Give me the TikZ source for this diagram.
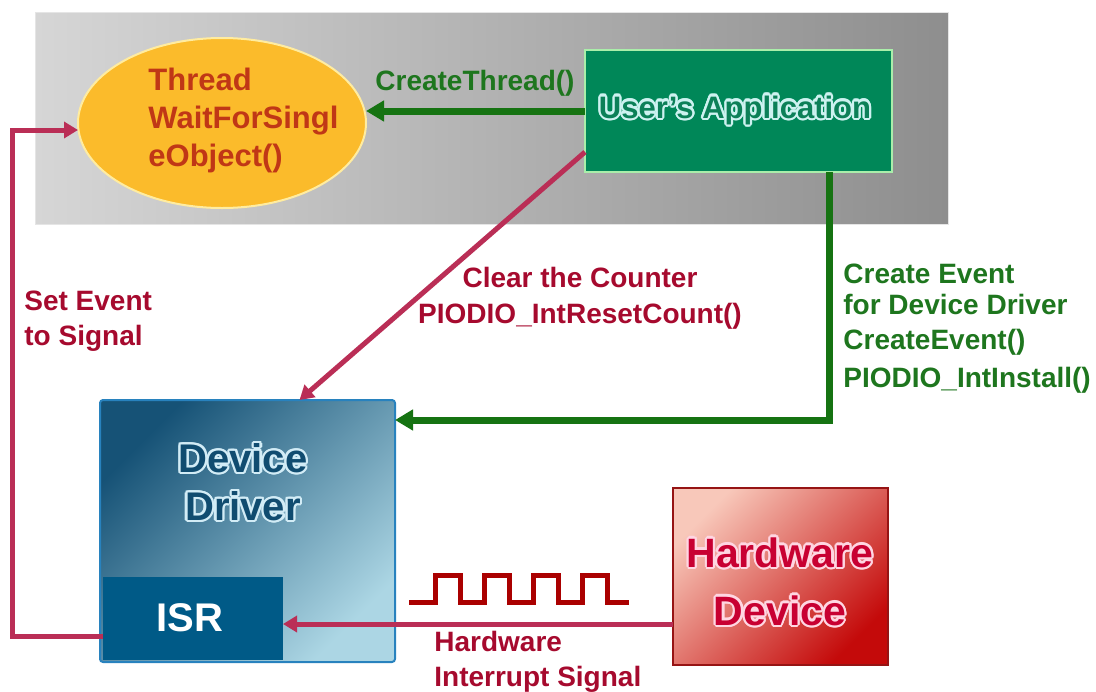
\documentclass[tikz,border=0pt]{standalone}
\usepackage{fontspec}
\setmainfont{Liberation Sans}
\usepackage{contour}
\usetikzlibrary{arrows.meta, shapes.geometric}
\contourlength{1.1pt}

\definecolor{panelL}{RGB}{214,214,214}
\definecolor{panelR}{RGB}{142,142,142}
\definecolor{threadfill}{RGB}{251,187,43}
\definecolor{threadedge}{RGB}{255,236,160}
\definecolor{threadtext}{RGB}{192,55,22}
\definecolor{appfill}{RGB}{0,135,88}
\definecolor{appedge}{RGB}{170,238,170}
\definecolor{apptext}{RGB}{12,128,88}
\definecolor{appglow}{RGB}{205,242,240}
\definecolor{flowgreen}{RGB}{22,115,18}
\definecolor{labelgreen}{RGB}{30,118,30}
\definecolor{flowred}{RGB}{186,46,86}
\definecolor{labelred}{RGB}{166,10,46}
\definecolor{wavered}{RGB}{170,0,0}
\definecolor{drvdark}{RGB}{22,82,118}
\definecolor{drvlight}{RGB}{172,214,228}
\definecolor{drvedge}{RGB}{40,130,190}
\definecolor{drvtext}{RGB}{16,76,112}
\definecolor{drvglow}{RGB}{210,236,246}
\definecolor{isrfill}{RGB}{0,90,135}
\definecolor{hwlight}{RGB}{248,200,186}
\definecolor{hwdark}{RGB}{196,10,10}
\definecolor{hwedge}{RGB}{150,20,20}
\definecolor{hwtext}{RGB}{200,0,50}
\definecolor{hwglow}{RGB}{255,214,226}

\begin{document}
\begin{tikzpicture}[x=0.5pt, y=-0.5pt,
    box/.style={inner sep=0pt, outer sep=0pt},
    note/.style={inner sep=0pt, align=left, font=\bfseries\fontsize{14}{17.5}\selectfont},
    bigtext/.style={inner sep=0pt, align=center, font=\bfseries\fontsize{20}{24}\selectfont},
    greenflow/.style={draw=flowgreen, line width=3.5pt, -{Triangle[length=9pt, width=10pt]}},
    redflow/.style={draw=flowred, line width=2.5pt, -{Triangle[length=7pt, width=8pt]}},
    wave/.style={draw=wavered, line width=2.5pt}]

    \useasboundingbox (0,0) rectangle (1096,691);

    % Application layer
    \node[box, minimum width=456.5pt, minimum height=106pt, left color=panelL, right color=panelR, draw=black!10] (panel) at (491.5,118) {}; % Gray band
    \node[box, ellipse, minimum width=144pt, minimum height=85pt, fill=threadfill, draw=threadedge, line width=1pt] (thread) at (222,123) {}; % Thread
    \node[note, anchor=north west, text=threadtext, font=\bfseries\fontsize{15.5}{19}\selectfont] (threadtxt) at (148,68) {Thread\\WaitForSingl\\eObject()};
    \node[box, minimum width=153.5pt, minimum height=61pt, fill=appfill, draw=appedge, line width=1pt] (app) at (738.5,111) {}; % Application
    \node[inner sep=0pt, anchor=base, text=apptext, font=\bfseries\fontsize{15.5}{18}\selectfont] (apptxt) at (735,118) {\contour{appglow}{User's Application}};

    % Driver and hardware
    \node[box, minimum width=147.5pt, minimum height=131pt, top color=drvdark, bottom color=drvlight, shading angle=45, draw=drvedge, line width=1pt, rounded corners=1.5pt] (driver) at (247.5,531) {}; % Driver
    \node[box, minimum width=90pt, minimum height=41.5pt, fill=isrfill] (isr) at (193,618.5) {}; % ISR corner
    \node[bigtext, anchor=north, text=drvtext] (drvtxt) at (243,443) {\contour{drvglow}{Device}\\\contour{drvglow}{Driver}};
    \node[bigtext, text=white] (isrtxt) at (190,618) {ISR};
    \node[box, minimum width=107.5pt, minimum height=88.5pt, top color=hwlight, bottom color=hwdark, shading angle=45, draw=hwedge, line width=1pt] (hw) at (780.5,576.5) {}; % Hardware
    \node[bigtext, anchor=north, text=hwtext, font=\bfseries\fontsize{20.5}{29}\selectfont] (hwtxt) at (780,537) {\contour{hwglow}{Hardware}\\\contour{hwglow}{Device}};

    % Pulse train
    \draw[wave] (409,602) \foreach \x in {435,484,533,582} { -- (\x,602) -- (\x,575) -- ({\x+25},575) -- ({\x+25},602) } -- (629,602);

    % Connectors
    \draw[greenflow] (app.west) -- (app.west -| thread.east);
    \coordinate (bend) at (829,420);
    \draw[greenflow] (app.south -| bend) -- (bend) -- (bend -| driver.east);
    \draw[redflow] ([yshift=10pt]app.south west) -- ([xshift=26pt]driver.north);
    \coordinate (isrout) at ([yshift=-9pt]isr.west);
    \coordinate (back) at (12,130);
    \draw[redflow] (isrout) -- (isrout -| back) -- (back) -- (back -| thread.west);
    \coordinate (hwout) at ([yshift=-23.75pt]hw.west);
    \draw[redflow] (hwout) -- (hwout -| isr.east);

    % Labels
    \node[note, anchor=base, text=labelgreen] (threadlbl) at (475,90) {CreateThread()};
    \node[note, anchor=north, align=center, text=labelred, font=\bfseries\fontsize{14}{18}\selectfont] (clearlbl) at (580,267) {Clear the Counter\\PIODIO\_IntResetCount()};
    \node[note, anchor=north west, text=labelgreen, font=\bfseries\fontsize{14}{15.5}\selectfont] (eventlbl) at (843,264) {Create Event\\for Device Driver\\[2pt]CreateEvent()\\[3.5pt]PIODIO\_IntInstall()};
    \node[note, anchor=north west, text=labelred] (setlbl) at (24,291) {Set Event\\to Signal};
    \node[note, anchor=north west, text=labelred] (irqlbl) at (434,631) {Hardware\\Interrupt Signal};
\end{tikzpicture}
\end{document}
